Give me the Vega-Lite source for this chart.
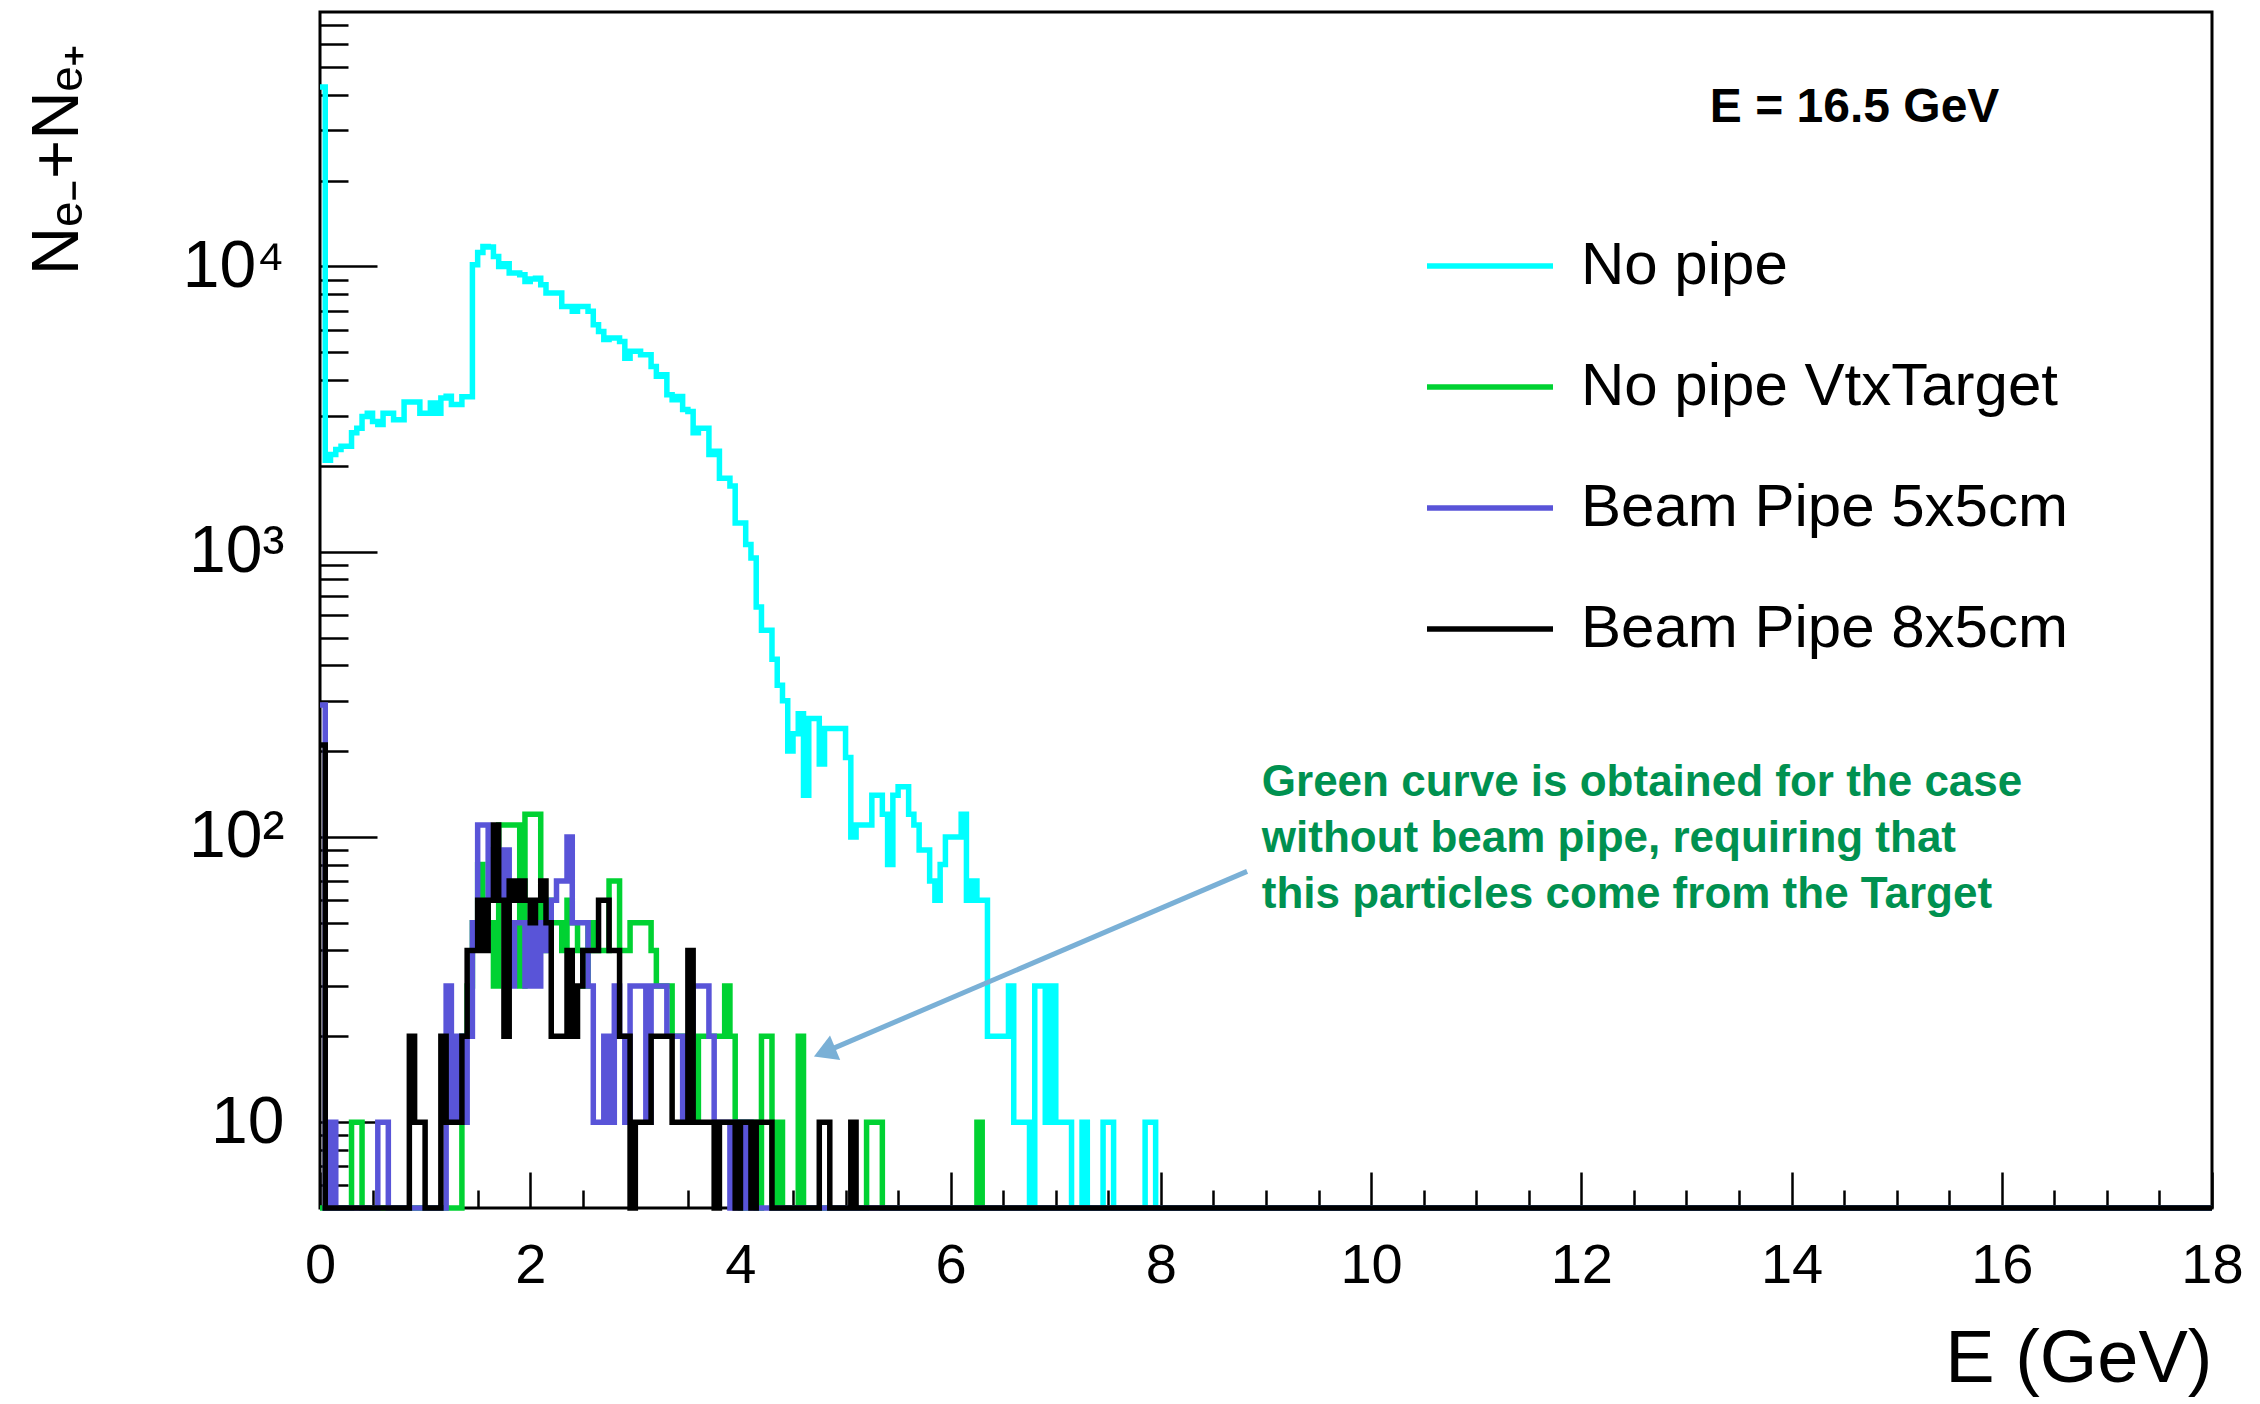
{
  "$schema": "https://vega.github.io/schema/vega-lite/v6.json",
  "width": 1892,
  "height": 1196,
  "autosize": {"type": "none"},
  "padding": {"left": 320, "top": 12, "right": 48, "bottom": 196},
  "background": "white",
  "config": {
    "view": {"stroke": "black", "strokeWidth": 3},
    "font": "Liberation Sans",
    "axis": {"grid": false, "domain": false, "tickColor": "black", "tickWidth": 2.5, "labelColor": "black", "titleColor": "black", "labelFont": "Liberation Sans", "titleFont": "Liberation Sans", "titleFontWeight": "normal"}
  },
  "datasets": {
    "spectra": [
      {"E":0,"nopipe":42600,"vtx":0,"bp5x5":290,"bp8x5":210},
      {"E":0.05,"nopipe":2090,"vtx":0,"bp5x5":0,"bp8x5":0},
      {"E":0.1,"nopipe":2190,"vtx":0,"bp5x5":10,"bp8x5":0},
      {"E":0.15,"nopipe":2280,"vtx":0,"bp5x5":0,"bp8x5":0},
      {"E":0.2,"nopipe":2340,"vtx":0,"bp5x5":0,"bp8x5":0},
      {"E":0.25,"nopipe":2340,"vtx":0,"bp5x5":0,"bp8x5":0},
      {"E":0.3,"nopipe":2610,"vtx":10,"bp5x5":0,"bp8x5":0},
      {"E":0.35,"nopipe":2710,"vtx":10,"bp5x5":0,"bp8x5":0},
      {"E":0.4,"nopipe":2980,"vtx":0,"bp5x5":0,"bp8x5":0},
      {"E":0.45,"nopipe":3060,"vtx":0,"bp5x5":0,"bp8x5":0},
      {"E":0.5,"nopipe":2860,"vtx":0,"bp5x5":0,"bp8x5":0},
      {"E":0.55,"nopipe":2790,"vtx":0,"bp5x5":10,"bp8x5":0},
      {"E":0.6,"nopipe":3060,"vtx":0,"bp5x5":10,"bp8x5":0},
      {"E":0.65,"nopipe":3060,"vtx":0,"bp5x5":0,"bp8x5":0},
      {"E":0.7,"nopipe":2900,"vtx":0,"bp5x5":0,"bp8x5":0},
      {"E":0.75,"nopipe":2900,"vtx":0,"bp5x5":0,"bp8x5":0},
      {"E":0.8,"nopipe":3350,"vtx":0,"bp5x5":0,"bp8x5":0},
      {"E":0.85,"nopipe":3350,"vtx":0,"bp5x5":0,"bp8x5":20},
      {"E":0.9,"nopipe":3350,"vtx":0,"bp5x5":0,"bp8x5":10},
      {"E":0.95,"nopipe":3060,"vtx":0,"bp5x5":0,"bp8x5":10},
      {"E":1.0,"nopipe":3060,"vtx":0,"bp5x5":0,"bp8x5":0},
      {"E":1.05,"nopipe":3320,"vtx":0,"bp5x5":0,"bp8x5":0},
      {"E":1.1,"nopipe":3060,"vtx":0,"bp5x5":0,"bp8x5":0},
      {"E":1.15,"nopipe":3460,"vtx":0,"bp5x5":0,"bp8x5":20},
      {"E":1.2,"nopipe":3510,"vtx":0,"bp5x5":30,"bp8x5":10},
      {"E":1.25,"nopipe":3280,"vtx":0,"bp5x5":10,"bp8x5":10},
      {"E":1.3,"nopipe":3280,"vtx":0,"bp5x5":20,"bp8x5":10},
      {"E":1.35,"nopipe":3490,"vtx":20,"bp5x5":10,"bp8x5":20},
      {"E":1.4,"nopipe":3490,"vtx":30,"bp5x5":20,"bp8x5":40},
      {"E":1.45,"nopipe":10130,"vtx":50,"bp5x5":50,"bp8x5":40},
      {"E":1.5,"nopipe":11200,"vtx":80,"bp5x5":110,"bp8x5":60},
      {"E":1.55,"nopipe":11750,"vtx":60,"bp5x5":110,"bp8x5":40},
      {"E":1.6,"nopipe":11690,"vtx":50,"bp5x5":60,"bp8x5":60},
      {"E":1.65,"nopipe":10840,"vtx":30,"bp5x5":90,"bp8x5":110},
      {"E":1.7,"nopipe":10000,"vtx":110,"bp5x5":60,"bp8x5":60},
      {"E":1.75,"nopipe":10220,"vtx":110,"bp5x5":90,"bp8x5":20},
      {"E":1.8,"nopipe":9480,"vtx":110,"bp5x5":30,"bp8x5":70},
      {"E":1.85,"nopipe":9480,"vtx":110,"bp5x5":50,"bp8x5":60},
      {"E":1.9,"nopipe":9350,"vtx":30,"bp5x5":50,"bp8x5":70},
      {"E":1.95,"nopipe":8860,"vtx":120,"bp5x5":30,"bp8x5":60},
      {"E":2.0,"nopipe":9030,"vtx":120,"bp5x5":50,"bp8x5":50},
      {"E":2.05,"nopipe":9100,"vtx":120,"bp5x5":30,"bp8x5":60},
      {"E":2.1,"nopipe":8630,"vtx":40,"bp5x5":50,"bp8x5":70},
      {"E":2.15,"nopipe":8070,"vtx":60,"bp5x5":40,"bp8x5":50},
      {"E":2.2,"nopipe":8070,"vtx":50,"bp5x5":60,"bp8x5":20},
      {"E":2.25,"nopipe":8070,"vtx":50,"bp5x5":70,"bp8x5":20},
      {"E":2.3,"nopipe":7240,"vtx":40,"bp5x5":70,"bp8x5":20},
      {"E":2.35,"nopipe":7240,"vtx":60,"bp5x5":100,"bp8x5":40},
      {"E":2.4,"nopipe":6960,"vtx":50,"bp5x5":50,"bp8x5":20},
      {"E":2.45,"nopipe":7240,"vtx":40,"bp5x5":50,"bp8x5":30},
      {"E":2.5,"nopipe":7240,"vtx":30,"bp5x5":50,"bp8x5":40},
      {"E":2.55,"nopipe":6960,"vtx":50,"bp5x5":30,"bp8x5":40},
      {"E":2.6,"nopipe":6250,"vtx":40,"bp5x5":10,"bp8x5":40},
      {"E":2.65,"nopipe":5920,"vtx":40,"bp5x5":10,"bp8x5":60},
      {"E":2.7,"nopipe":5540,"vtx":40,"bp5x5":20,"bp8x5":60},
      {"E":2.75,"nopipe":5610,"vtx":70,"bp5x5":10,"bp8x5":40},
      {"E":2.8,"nopipe":5610,"vtx":70,"bp5x5":30,"bp8x5":40},
      {"E":2.85,"nopipe":5460,"vtx":40,"bp5x5":20,"bp8x5":20},
      {"E":2.9,"nopipe":4770,"vtx":40,"bp5x5":10,"bp8x5":20},
      {"E":2.95,"nopipe":5040,"vtx":50,"bp5x5":30,"bp8x5":0},
      {"E":3.0,"nopipe":5040,"vtx":50,"bp5x5":30,"bp8x5":10},
      {"E":3.05,"nopipe":4900,"vtx":50,"bp5x5":30,"bp8x5":10},
      {"E":3.1,"nopipe":4900,"vtx":50,"bp5x5":10,"bp8x5":10},
      {"E":3.15,"nopipe":4460,"vtx":40,"bp5x5":30,"bp8x5":20},
      {"E":3.2,"nopipe":4120,"vtx":30,"bp5x5":30,"bp8x5":20},
      {"E":3.25,"nopipe":4170,"vtx":30,"bp5x5":30,"bp8x5":20},
      {"E":3.3,"nopipe":3550,"vtx":30,"bp5x5":20,"bp8x5":20},
      {"E":3.35,"nopipe":3410,"vtx":20,"bp5x5":20,"bp8x5":10},
      {"E":3.4,"nopipe":3500,"vtx":20,"bp5x5":20,"bp8x5":10},
      {"E":3.45,"nopipe":3150,"vtx":20,"bp5x5":10,"bp8x5":10},
      {"E":3.5,"nopipe":3100,"vtx":20,"bp5x5":20,"bp8x5":40},
      {"E":3.55,"nopipe":2610,"vtx":10,"bp5x5":30,"bp8x5":10},
      {"E":3.6,"nopipe":2710,"vtx":20,"bp5x5":30,"bp8x5":10},
      {"E":3.65,"nopipe":2710,"vtx":20,"bp5x5":30,"bp8x5":10},
      {"E":3.7,"nopipe":2190,"vtx":20,"bp5x5":20,"bp8x5":10},
      {"E":3.75,"nopipe":2250,"vtx":20,"bp5x5":10,"bp8x5":0},
      {"E":3.8,"nopipe":1810,"vtx":20,"bp5x5":10,"bp8x5":10},
      {"E":3.85,"nopipe":1810,"vtx":30,"bp5x5":10,"bp8x5":10},
      {"E":3.9,"nopipe":1700,"vtx":20,"bp5x5":0,"bp8x5":10},
      {"E":3.95,"nopipe":1260,"vtx":10,"bp5x5":10,"bp8x5":0},
      {"E":4.0,"nopipe":1260,"vtx":0,"bp5x5":0,"bp8x5":10},
      {"E":4.05,"nopipe":1060,"vtx":10,"bp5x5":10,"bp8x5":10},
      {"E":4.1,"nopipe":950,"vtx":10,"bp5x5":0,"bp8x5":0},
      {"E":4.15,"nopipe":640,"vtx":0,"bp5x5":0,"bp8x5":10},
      {"E":4.2,"nopipe":530,"vtx":20,"bp5x5":0,"bp8x5":10},
      {"E":4.25,"nopipe":530,"vtx":20,"bp5x5":0,"bp8x5":10},
      {"E":4.3,"nopipe":420,"vtx":0,"bp5x5":0,"bp8x5":0},
      {"E":4.35,"nopipe":340,"vtx":10,"bp5x5":0,"bp8x5":0},
      {"E":4.4,"nopipe":300,"vtx":0,"bp5x5":0,"bp8x5":0},
      {"E":4.45,"nopipe":200,"vtx":0,"bp5x5":0,"bp8x5":0},
      {"E":4.5,"nopipe":230,"vtx":0,"bp5x5":0,"bp8x5":0},
      {"E":4.55,"nopipe":270,"vtx":20,"bp5x5":0,"bp8x5":0},
      {"E":4.6,"nopipe":140,"vtx":0,"bp5x5":0,"bp8x5":0},
      {"E":4.65,"nopipe":260,"vtx":0,"bp5x5":0,"bp8x5":0},
      {"E":4.7,"nopipe":260,"vtx":0,"bp5x5":0,"bp8x5":0},
      {"E":4.75,"nopipe":180,"vtx":0,"bp5x5":0,"bp8x5":10},
      {"E":4.8,"nopipe":240,"vtx":0,"bp5x5":0,"bp8x5":10},
      {"E":4.85,"nopipe":240,"vtx":0,"bp5x5":0,"bp8x5":0},
      {"E":4.9,"nopipe":240,"vtx":0,"bp5x5":0,"bp8x5":0},
      {"E":4.95,"nopipe":240,"vtx":0,"bp5x5":0,"bp8x5":0},
      {"E":5.0,"nopipe":190,"vtx":0,"bp5x5":0,"bp8x5":0},
      {"E":5.05,"nopipe":100,"vtx":0,"bp5x5":0,"bp8x5":10},
      {"E":5.1,"nopipe":110,"vtx":0,"bp5x5":0,"bp8x5":0},
      {"E":5.15,"nopipe":110,"vtx":0,"bp5x5":0,"bp8x5":0},
      {"E":5.2,"nopipe":110,"vtx":10,"bp5x5":0,"bp8x5":0},
      {"E":5.25,"nopipe":140,"vtx":10,"bp5x5":0,"bp8x5":0},
      {"E":5.3,"nopipe":140,"vtx":10,"bp5x5":0,"bp8x5":0},
      {"E":5.35,"nopipe":120,"vtx":0,"bp5x5":0,"bp8x5":0},
      {"E":5.4,"nopipe":80,"vtx":0,"bp5x5":0,"bp8x5":0},
      {"E":5.45,"nopipe":140,"vtx":0,"bp5x5":0,"bp8x5":0},
      {"E":5.5,"nopipe":150,"vtx":0,"bp5x5":0,"bp8x5":0},
      {"E":5.55,"nopipe":150,"vtx":0,"bp5x5":0,"bp8x5":0},
      {"E":5.6,"nopipe":120,"vtx":0,"bp5x5":0,"bp8x5":0},
      {"E":5.65,"nopipe":110,"vtx":0,"bp5x5":0,"bp8x5":0},
      {"E":5.7,"nopipe":90,"vtx":0,"bp5x5":0,"bp8x5":0},
      {"E":5.75,"nopipe":90,"vtx":0,"bp5x5":0,"bp8x5":0},
      {"E":5.8,"nopipe":70,"vtx":0,"bp5x5":0,"bp8x5":0},
      {"E":5.85,"nopipe":60,"vtx":0,"bp5x5":0,"bp8x5":0},
      {"E":5.9,"nopipe":80,"vtx":0,"bp5x5":0,"bp8x5":0},
      {"E":5.95,"nopipe":100,"vtx":0,"bp5x5":0,"bp8x5":0},
      {"E":6.0,"nopipe":100,"vtx":0,"bp5x5":0,"bp8x5":0},
      {"E":6.05,"nopipe":100,"vtx":0,"bp5x5":0,"bp8x5":0},
      {"E":6.1,"nopipe":120,"vtx":0,"bp5x5":0,"bp8x5":0},
      {"E":6.15,"nopipe":60,"vtx":0,"bp5x5":0,"bp8x5":0},
      {"E":6.2,"nopipe":70,"vtx":0,"bp5x5":0,"bp8x5":0},
      {"E":6.25,"nopipe":60,"vtx":10,"bp5x5":0,"bp8x5":0},
      {"E":6.3,"nopipe":60,"vtx":0,"bp5x5":0,"bp8x5":0},
      {"E":6.35,"nopipe":20,"vtx":0,"bp5x5":0,"bp8x5":0},
      {"E":6.4,"nopipe":20,"vtx":0,"bp5x5":0,"bp8x5":0},
      {"E":6.45,"nopipe":20,"vtx":0,"bp5x5":0,"bp8x5":0},
      {"E":6.5,"nopipe":20,"vtx":0,"bp5x5":0,"bp8x5":0},
      {"E":6.55,"nopipe":30,"vtx":0,"bp5x5":0,"bp8x5":0},
      {"E":6.6,"nopipe":10,"vtx":0,"bp5x5":0,"bp8x5":0},
      {"E":6.65,"nopipe":10,"vtx":0,"bp5x5":0,"bp8x5":0},
      {"E":6.7,"nopipe":10,"vtx":0,"bp5x5":0,"bp8x5":0},
      {"E":6.75,"nopipe":0,"vtx":0,"bp5x5":0,"bp8x5":0},
      {"E":6.8,"nopipe":30,"vtx":0,"bp5x5":0,"bp8x5":0},
      {"E":6.85,"nopipe":30,"vtx":0,"bp5x5":0,"bp8x5":0},
      {"E":6.9,"nopipe":10,"vtx":0,"bp5x5":0,"bp8x5":0},
      {"E":6.95,"nopipe":30,"vtx":0,"bp5x5":0,"bp8x5":0},
      {"E":7.0,"nopipe":10,"vtx":0,"bp5x5":0,"bp8x5":0},
      {"E":7.05,"nopipe":10,"vtx":0,"bp5x5":0,"bp8x5":0},
      {"E":7.1,"nopipe":10,"vtx":0,"bp5x5":0,"bp8x5":0},
      {"E":7.15,"nopipe":0,"vtx":0,"bp5x5":0,"bp8x5":0},
      {"E":7.2,"nopipe":0,"vtx":0,"bp5x5":0,"bp8x5":0},
      {"E":7.25,"nopipe":10,"vtx":0,"bp5x5":0,"bp8x5":0},
      {"E":7.3,"nopipe":0,"vtx":0,"bp5x5":0,"bp8x5":0},
      {"E":7.35,"nopipe":0,"vtx":0,"bp5x5":0,"bp8x5":0},
      {"E":7.4,"nopipe":0,"vtx":0,"bp5x5":0,"bp8x5":0},
      {"E":7.45,"nopipe":10,"vtx":0,"bp5x5":0,"bp8x5":0},
      {"E":7.5,"nopipe":10,"vtx":0,"bp5x5":0,"bp8x5":0},
      {"E":7.55,"nopipe":0,"vtx":0,"bp5x5":0,"bp8x5":0},
      {"E":7.6,"nopipe":0,"vtx":0,"bp5x5":0,"bp8x5":0},
      {"E":7.65,"nopipe":0,"vtx":0,"bp5x5":0,"bp8x5":0},
      {"E":7.7,"nopipe":0,"vtx":0,"bp5x5":0,"bp8x5":0},
      {"E":7.75,"nopipe":0,"vtx":0,"bp5x5":0,"bp8x5":0},
      {"E":7.8,"nopipe":0,"vtx":0,"bp5x5":0,"bp8x5":0},
      {"E":7.85,"nopipe":10,"vtx":0,"bp5x5":0,"bp8x5":0},
      {"E":7.9,"nopipe":10,"vtx":0,"bp5x5":0,"bp8x5":0},
      {"E":7.95,"nopipe":0,"vtx":0,"bp5x5":0,"bp8x5":0},
      {"E":8.0,"nopipe":0,"vtx":0,"bp5x5":0,"bp8x5":0},
      {"E":18,"nopipe":0,"vtx":0,"bp5x5":0,"bp8x5":0}
    ]
  },
  "layer": [
    {
      "data": {"name": "spectra"},
      "transform": [
        {"fold": ["nopipe", "vtx", "bp5x5", "bp8x5"], "as": ["run", "N"]},
        {"filter": {"field": "run", "equal": "nopipe"}}
      ],
      "mark": {"type": "line", "interpolate": "step-after", "strokeWidth": 5.5, "invalid": "show"},
      "encoding": {
        "x": {
          "field": "E", "type": "quantitative",
          "scale": {"domain": [0, 18], "nice": false, "zero": false},
          "axis": {
            "orient": "bottom", "values": [0, 2, 4, 6, 8, 10, 12, 14, 16, 18],
            "tickSize": -36, "labelFontSize": 56, "labelPadding": 66, "labelFlush": false, "labelOverlap": false,
            "title": "E (GeV)", "titleFontSize": 74, "titleX": 1892, "titleY": 173,
            "titleAlign": "right", "titleBaseline": "alphabetic"
          }
        },
        "y": {
          "field": "N", "type": "quantitative",
          "scale": {"type": "log", "domain": [5, 78000], "nice": false, "clamp": true},
          "axis": {
            "orient": "left", "values": [10, 100, 1000, 10000],
            "tickSize": -57, "labelFontSize": 66, "labelPadding": 93, "labelOverlap": false,
            "labelExpr": "datum.value === 10 ? '10' : datum.value === 100 ? '10²' : datum.value === 1000 ? '10³' : '10⁴'",
            "title": "Nₑ₋+Nₑ₊", "titleFontSize": 67, "titleX": -296, "titleY": 31,
            "titleAlign": "right", "titleBaseline": "top", "titleAngle": 270
          }
        },
        "color": {
          "field": "run", "type": "nominal",
          "scale": {"domain": ["nopipe", "vtx", "bp5x5", "bp8x5"], "range": ["#00FFFF", "#00D232", "#5954D8", "#000000"]},
          "legend": {
            "orient": "none", "legendX": 1104, "legendY": 188, "title": null,
            "symbolType": "stroke", "symbolSize": 15876, "symbolStrokeWidth": 5.5,
            "labelFontSize": 60, "labelFont": "Liberation Sans", "labelColor": "black", "labelOffset": 25,
            "labelLimit": 0, "rowPadding": 25, "padding": 0,
            "labelExpr": "datum.label === 'nopipe' ? 'No pipe' : datum.label === 'vtx' ? 'No pipe VtxTarget' : datum.label === 'bp5x5' ? 'Beam Pipe 5x5cm' : 'Beam Pipe 8x5cm'"
          }
        }
      }
    },
    {
      "data": {"name": "spectra"},
      "transform": [
        {"fold": ["nopipe", "vtx", "bp5x5", "bp8x5"], "as": ["run", "N"]},
        {"filter": {"field": "run", "equal": "vtx"}}
      ],
      "mark": {"type": "line", "interpolate": "step-after", "strokeWidth": 5.5, "invalid": "show"},
      "encoding": {
        "x": {
          "field": "E", "type": "quantitative",
          "scale": {"domain": [0, 18], "nice": false, "zero": false},
          "axis": {
            "orient": "bottom",
            "values": [0.5, 1, 1.5, 2.5, 3, 3.5, 4.5, 5, 5.5, 6.5, 7, 7.5, 8.5, 9, 9.5, 10.5, 11, 11.5, 12.5, 13, 13.5, 14.5, 15, 15.5, 16.5, 17, 17.5],
            "tickSize": -18, "labels": false, "title": null
          }
        },
        "y": {
          "field": "N", "type": "quantitative",
          "scale": {"type": "log", "domain": [5, 78000], "nice": false, "clamp": true},
          "axis": {
            "orient": "left",
            "values": [6, 7, 8, 9, 20, 30, 40, 50, 60, 70, 80, 90, 200, 300, 400, 500, 600, 700, 800, 900, 2000, 3000, 4000, 5000, 6000, 7000, 8000, 9000, 20000, 30000, 40000, 50000, 60000, 70000],
            "tickSize": -28, "labels": false, "title": null
          }
        },
        "color": {"field": "run", "type": "nominal", "scale": {"domain": ["nopipe", "vtx", "bp5x5", "bp8x5"], "range": ["#00FFFF", "#00D232", "#5954D8", "#000000"]}}
      }
    },
    {
      "data": {"name": "spectra"},
      "transform": [
        {"fold": ["nopipe", "vtx", "bp5x5", "bp8x5"], "as": ["run", "N"]},
        {"filter": {"field": "run", "equal": "bp5x5"}}
      ],
      "mark": {"type": "line", "interpolate": "step-after", "strokeWidth": 5.5, "invalid": "show"},
      "encoding": {
        "x": {"field": "E", "type": "quantitative", "scale": {"domain": [0, 18], "nice": false, "zero": false}, "axis": null},
        "y": {"field": "N", "type": "quantitative", "scale": {"type": "log", "domain": [5, 78000], "nice": false, "clamp": true}, "axis": null},
        "color": {"field": "run", "type": "nominal", "scale": {"domain": ["nopipe", "vtx", "bp5x5", "bp8x5"], "range": ["#00FFFF", "#00D232", "#5954D8", "#000000"]}}
      }
    },
    {
      "data": {"name": "spectra"},
      "transform": [
        {"fold": ["nopipe", "vtx", "bp5x5", "bp8x5"], "as": ["run", "N"]},
        {"filter": {"field": "run", "equal": "bp8x5"}}
      ],
      "mark": {"type": "line", "interpolate": "step-after", "strokeWidth": 5.5, "invalid": "show"},
      "encoding": {
        "x": {"field": "E", "type": "quantitative", "scale": {"domain": [0, 18], "nice": false, "zero": false}, "axis": null},
        "y": {"field": "N", "type": "quantitative", "scale": {"type": "log", "domain": [5, 78000], "nice": false, "clamp": true}, "axis": null},
        "color": {"field": "run", "type": "nominal", "scale": {"domain": ["nopipe", "vtx", "bp5x5", "bp8x5"], "range": ["#00FFFF", "#00D232", "#5954D8", "#000000"]}}
      }
    },
    {
      "data": {"values": [{}]},
      "mark": {"type": "rule", "color": "#7AB0D6", "strokeWidth": 5},
      "encoding": {
        "x": {"datum": 8.82, "type": "quantitative", "scale": {"domain": [0, 18], "nice": false, "zero": false}, "axis": null},
        "y": {"datum": 75.7, "type": "quantitative", "scale": {"type": "log", "domain": [5, 78000], "nice": false, "clamp": true}, "axis": null},
        "x2": {"datum": 4.8},
        "y2": {"datum": 17.6}
      }
    },
    {
      "data": {"values": [{}]},
      "mark": {"type": "point", "shape": "triangle-up", "angle": 247.4, "size": 700, "filled": true, "color": "#7AB0D6", "opacity": 1},
      "encoding": {
        "x": {"datum": 4.8, "type": "quantitative", "scale": {"domain": [0, 18], "nice": false, "zero": false}, "axis": null},
        "y": {"datum": 17.6, "type": "quantitative", "scale": {"type": "log", "domain": [5, 78000], "nice": false, "clamp": true}, "axis": null}
      }
    },
    {
      "data": {"values": [{}]},
      "mark": {"type": "text", "text": "E = 16.5 GeV", "font": "Liberation Sans", "fontSize": 48, "fontWeight": "bold", "color": "black", "align": "center", "baseline": "middle"},
      "encoding": {
        "x": {"datum": 14.6, "type": "quantitative", "scale": {"domain": [0, 18], "nice": false, "zero": false}, "axis": null},
        "y": {"datum": 36000, "type": "quantitative", "scale": {"type": "log", "domain": [5, 78000], "nice": false, "clamp": true}, "axis": null}
      }
    },
    {
      "data": {"values": [{}]},
      "mark": {
        "type": "text",
        "text": ["Green curve is obtained for the case", "without beam pipe, requiring that", "this particles come from the Target"],
        "font": "Liberation Sans", "fontSize": 44, "fontWeight": "bold",
        "lineHeight": 56, "color": "#009150", "align": "left", "baseline": "middle"
      },
      "encoding": {
        "x": {"datum": 8.96, "type": "quantitative", "scale": {"domain": [0, 18], "nice": false, "zero": false}, "axis": null},
        "y": {"datum": 155, "type": "quantitative", "scale": {"type": "log", "domain": [5, 78000], "nice": false, "clamp": true}, "axis": null}
      }
    }
  ],
  "resolve": {"axis": {"x": "independent", "y": "independent"}}
}
